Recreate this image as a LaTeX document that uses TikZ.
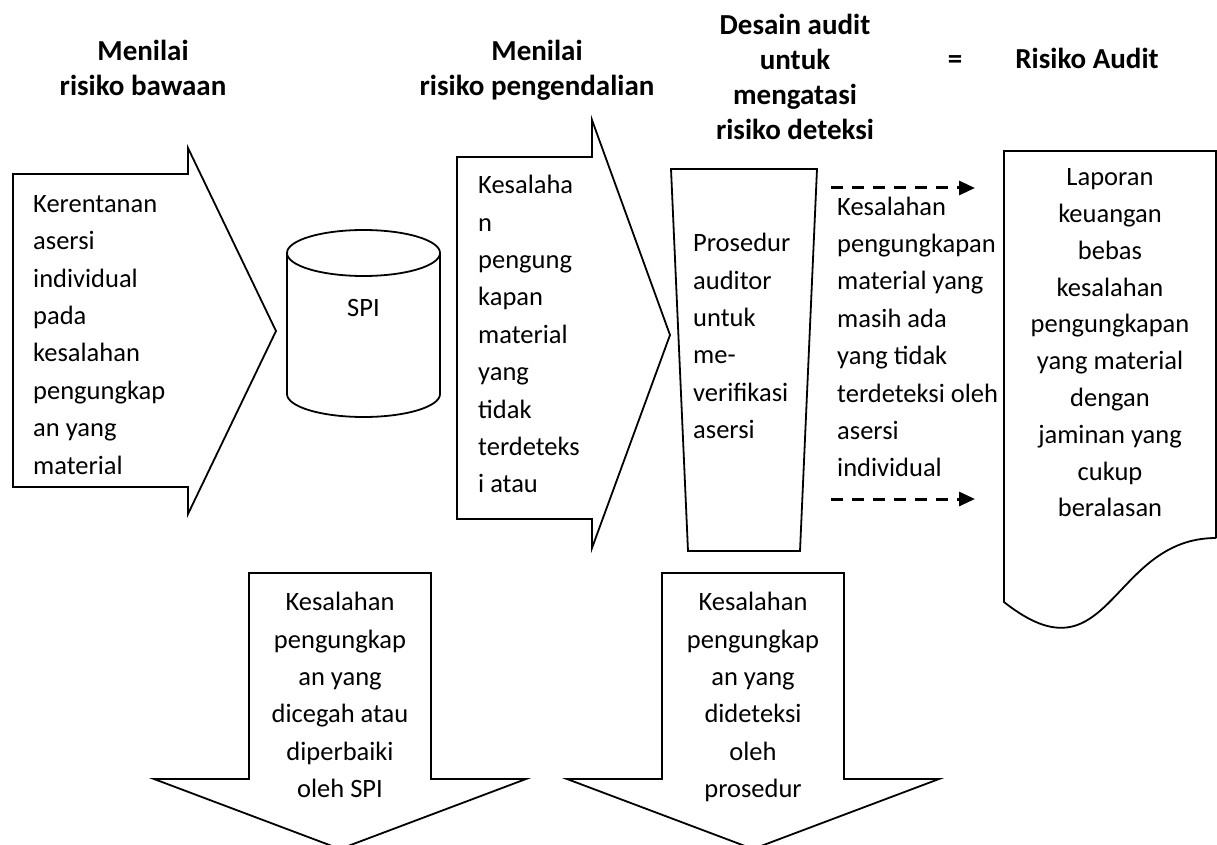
\documentclass[tikz,border=0pt]{standalone}
\usepackage{fontspec}
\setmainfont{Carlito}
\usetikzlibrary{arrows.meta}
\newcommand{\bodyfont}{\fontsize{26.5}{37.4}\selectfont}
\newcommand{\docfont}{\fontsize{26.5}{36.8}\selectfont}
\newcommand{\headfont}{\fontsize{29}{35}\selectfont\bfseries}
\begin{document}
\begin{tikzpicture}[x=1pt,y=-1pt,
    shapeline/.style={line width=1.8pt, line join=miter},
    bodytext/.style={font=\bodyfont, inner sep=0pt, align=left},
    midtext/.style={font=\bodyfont, inner sep=0pt, align=center},
    headtext/.style={font=\headfont, inner sep=0pt, align=center},
    dasharrow/.style={line width=3pt, dash pattern=on 12pt off 9pt, -{Triangle[length=16pt,width=14pt]}}]
    \clip (0,0) rectangle (1217,845);
    \node[headtext, anchor=north] (inherent) at (143,40) {Menilai\\risiko bawaan};
    \node[headtext, anchor=north] (control) at (537,40) {Menilai\\risiko pengendalian};
    \node[headtext, anchor=north] (design) at (795,14) {Desain audit\\untuk\\mengatasi\\risiko deteksi};
    \node[headtext, anchor=base] (equals) at (955,69) {=};
    \node[headtext, anchor=base] (auditrisk) at (1087,69) {Risiko Audit};
    \draw[shapeline] (13,174) -- (188,174) -- (188,148) -- (276,331) -- (188,514) -- (188,487) -- (13,487) -- cycle;
    \node[bodytext, anchor=north west] (weak) at (33,195) {Kerentanan\\asersi\\individual\\pada\\kesalahan\\pengungkap\\an yang\\material};
    \draw[shapeline] (287,253) -- (287,394) arc[start angle=180, end angle=0, x radius=76.5, y radius=23] -- (440,253);
    \draw[shapeline] (363.5,253) ellipse[x radius=76.5, y radius=23];
    \node[midtext, anchor=base] (spi) at (363.5,316) {SPI};
    \draw[shapeline] (457,157) -- (592,157) -- (592,120) -- (670,335) -- (592,548) -- (592,519) -- (457,519) -- cycle;
    \node[bodytext, anchor=north west] (undetected) at (478,175) {Kesalaha\\n\\pengung\\kapan\\material\\yang\\tidak\\terdeteks\\i atau};
    \draw[shapeline] (671,169) -- (817,169) -- (800,551) -- (688,551) -- cycle;
    \node[bodytext, anchor=north west] (procedure) at (693,233) {Prosedur\\auditor\\untuk\\me-\\verifikasi\\asersi};
    \node[bodytext, anchor=north west] (remaining) at (837,196.5) {Kesalahan\\pengungkapan\\material yang\\masih ada\\yang tidak\\terdeteksi oleh\\asersi\\individual};
    \foreach \y/\n in {188/a,499/b} {
      \coordinate (start\n) at (831,\y);
      \coordinate (end\n) at (975,\y);
      \draw[dasharrow] (start\n) -- (end\n);
    }
    \draw[shapeline] (1216,538) -- (1216,151) -- (1004,151) -- (1004,602) .. controls (1110,686) and (1110,538) .. (1216,538);
    \node[midtext, font=\docfont, anchor=north] (report) at (1110,168.5) {Laporan\\keuangan\\bebas\\kesalahan\\pengungkapan\\yang material\\dengan\\jaminan yang\\cukup\\beralasan};
    \foreach \cx in {340,753} {
      \draw[shapeline] (\cx-91,573) -- (\cx+91,573) -- (\cx+91,779) -- (\cx+186,779) -- (\cx,849) -- (\cx-186,779) -- (\cx-91,779) -- cycle;
    }
    \node[midtext, anchor=north] (prevented) at (340,592) {Kesalahan\\pengungkap\\an yang\\dicegah atau\\diperbaiki\\oleh SPI};
    \node[midtext, anchor=north] (detected) at (753,592) {Kesalahan\\pengungkap\\an yang\\dideteksi\\oleh\\prosedur};
\end{tikzpicture}
\end{document}
